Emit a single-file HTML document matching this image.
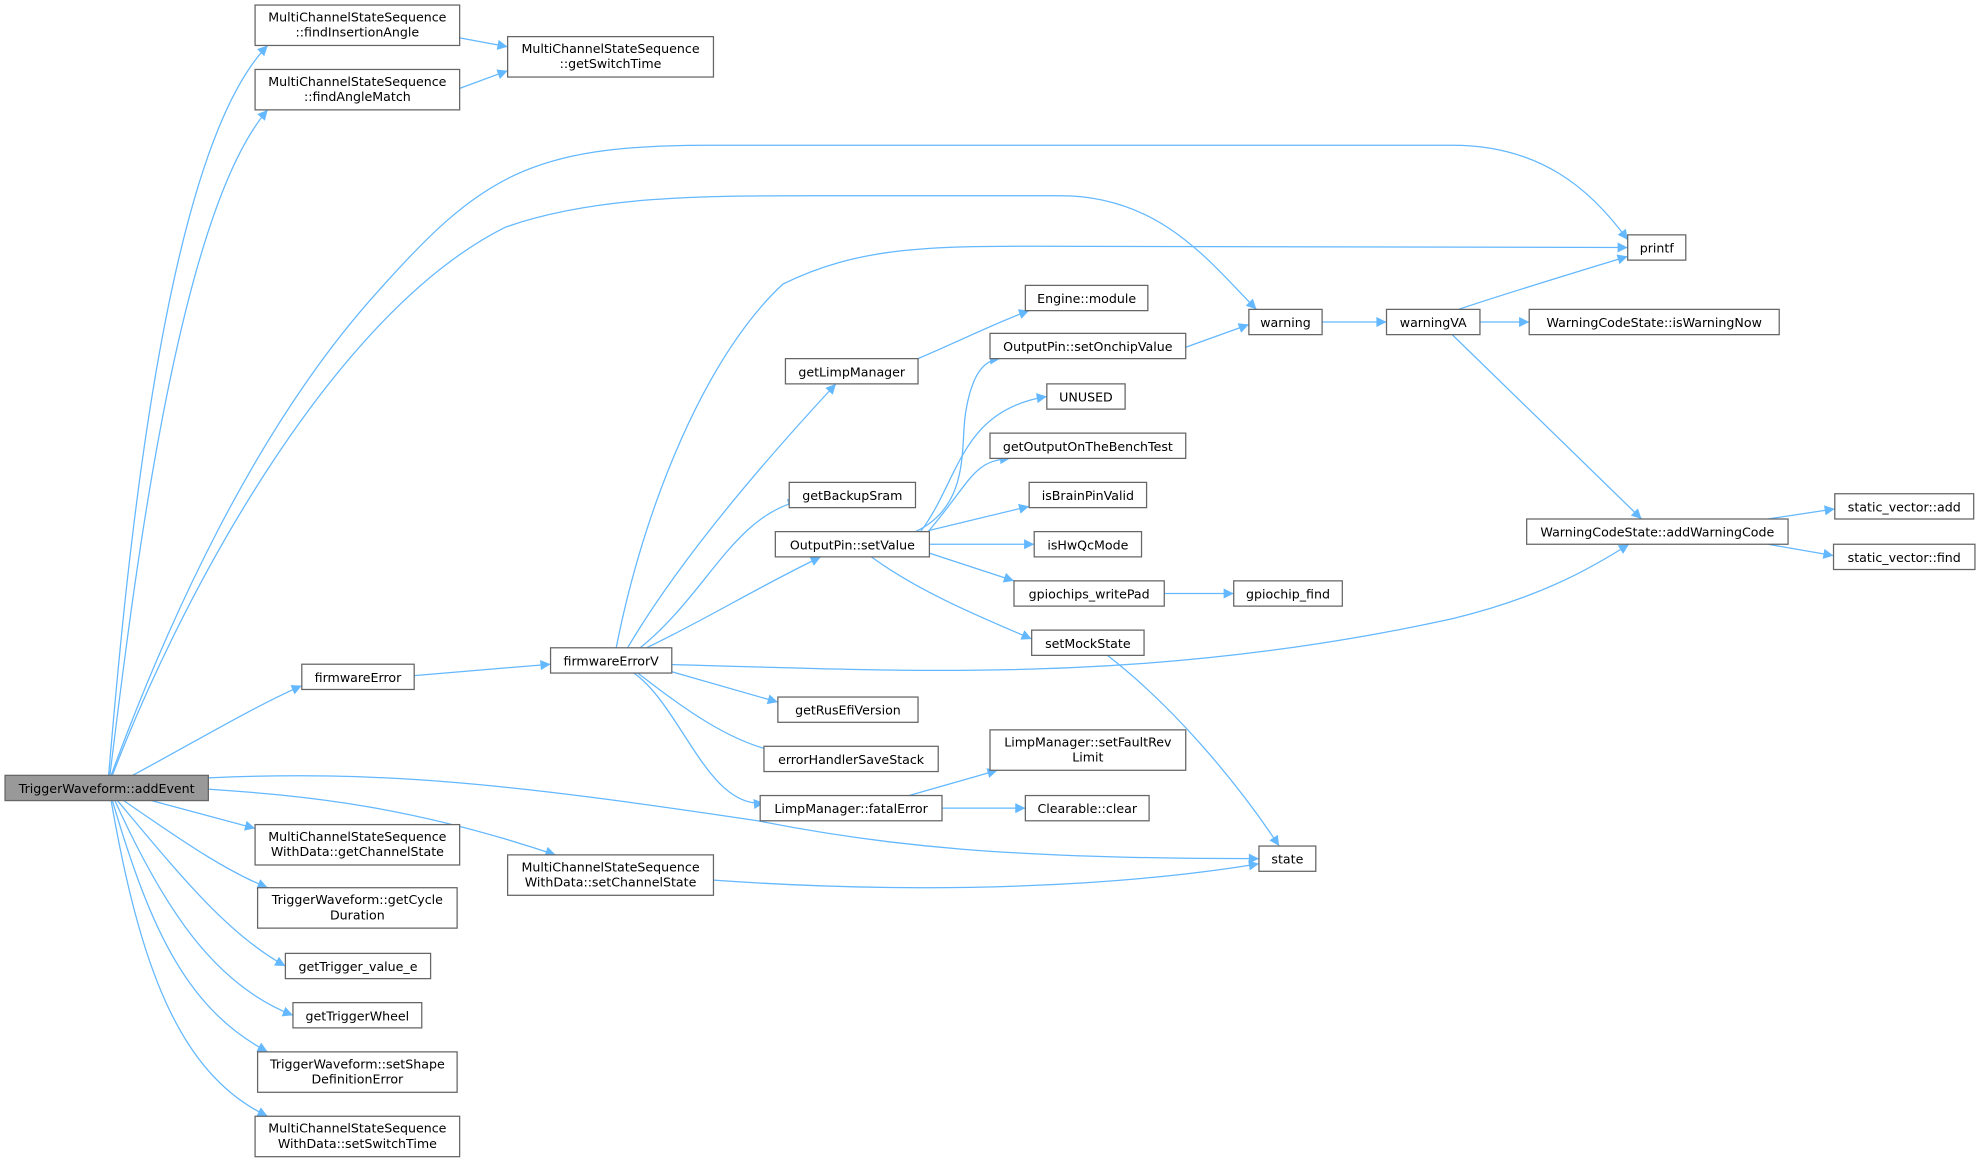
<!DOCTYPE html>
<html><head><meta charset="utf-8"><style>html,body{margin:0;padding:0;background:#fff}svg{display:block}</style></head><body>
<svg width="1980" height="1163" viewBox="0 0 1568 921" xmlns="http://www.w3.org/2000/svg" font-family="DejaVu Sans, Liberation Sans, sans-serif" font-size="10">
<defs><marker id="a" viewBox="0 0 10 10" refX="10" refY="5" markerWidth="10" markerHeight="8" markerUnits="userSpaceOnUse" orient="auto"><path d="M0,0L10,5L0,10z" fill="#63b8ff"/></marker></defs>
<g fill="none" stroke="#63b8ff" stroke-width="1" marker-end="url(#a)">
<path d="M86,614 C100,450 130,120 212,36"/>
<path d="M87,614 C105,470 140,170 212,87"/>
<path d="M364,30 L402,37"/>
<path d="M364,70 L402,56"/>
<path d="M88,614 C130,500 200,340 300,230 C380,140 420,115 560,115 L1150,115 C1220,115 1260,150 1289,190"/>
<path d="M89,614 C140,480 260,250 400,180 C470,155 560,155 640,155 L840,155 C920,155 960,210 995,245"/>
<path d="M105,614 C150,590 200,560 239,543"/>
<path d="M328,535 L436,526"/>
<path d="M488,513 C510,400 560,280 620,225 C680,195 740,195 820,195 L1289,196"/>
<path d="M497,513 C540,440 610,360 662,304"/>
<path d="M727,284 C760,270 790,255 815,246"/>
<path d="M507,513 C560,470 580,410 632,397"/>
<path d="M512,513 C560,490 600,465 650,441"/>
<path d="M520,526 C700,530 900,545 1150,490 C1220,473 1260,450 1290,431"/>
<path d="M532,532 L616,556"/>
<path d="M505,533 C540,560 580,590 620,596"/>
<path d="M502,533 C540,560 560,640 605,636"/>
<path d="M720,630 L790,610"/>
<path d="M746,640 L812,640"/>
<path d="M725,421 C770,400 760,350 765,325 C770,295 780,285 792,284"/>
<path d="M729,421 C760,380 760,325 829,314"/>
<path d="M735,421 C770,380 770,365 800,363"/>
<path d="M736,420 L815,401"/>
<path d="M736,431 L819,431"/>
<path d="M736,438 L803,460"/>
<path d="M690,441 C730,470 780,490 817,506"/>
<path d="M922,470 L977,470"/>
<path d="M877,519 C930,560 980,620 1013,670"/>
<path d="M939,275 L989,257"/>
<path d="M1047,255 L1098,255"/>
<path d="M1155,245 C1200,230 1250,215 1289,203"/>
<path d="M1172,255 L1211,255"/>
<path d="M1150,265 L1300,411"/>
<path d="M1400,411 L1453,403"/>
<path d="M1400,431 L1452,440"/>
<path d="M165,616 C300,610 400,620 600,650 C700,670 800,680 997,680"/>
<path d="M150,624 C250,630 330,640 440,677"/>
<path d="M565,697 C750,710 900,700 997,684"/>
<path d="M120,634 L202,656"/>
<path d="M98,634 C150,670 180,690 212,703"/>
<path d="M93,634 C140,690 180,740 226,765"/>
<path d="M91,634 C130,720 170,780 232,804"/>
<path d="M89,634 C120,740 150,800 212,833"/>
<path d="M88,634 C110,760 140,850 212,884"/>
</g>
<g stroke="#666" stroke-width="1" fill="#fff">
<rect x="4" y="614" width="161" height="20" fill="#999"/>
<rect x="202" y="4" width="162" height="32"/>
<rect x="202" y="55" width="162" height="32"/>
<rect x="402" y="29" width="163" height="32"/>
<rect x="1289" y="186" width="46" height="20"/>
<rect x="989" y="245" width="58" height="20"/>
<rect x="1098" y="245" width="74" height="20"/>
<rect x="1211" y="245" width="198" height="20"/>
<rect x="812" y="226" width="97" height="20"/>
<rect x="622" y="284" width="105" height="20"/>
<rect x="784" y="264" width="155" height="20"/>
<rect x="829" y="304" width="62" height="20"/>
<rect x="784" y="343" width="155" height="20"/>
<rect x="815" y="382" width="93" height="20"/>
<rect x="819" y="421" width="85" height="20"/>
<rect x="803" y="460" width="119" height="20"/>
<rect x="977" y="460" width="86" height="20"/>
<rect x="817" y="499" width="89" height="20"/>
<rect x="625" y="382" width="100" height="20"/>
<rect x="614" y="421" width="122" height="20"/>
<rect x="1209" y="411" width="207" height="20"/>
<rect x="1453" y="391" width="110" height="20"/>
<rect x="1452" y="431" width="112" height="20"/>
<rect x="239" y="526" width="89" height="20"/>
<rect x="436" y="513" width="96" height="20"/>
<rect x="616" y="552" width="111" height="20"/>
<rect x="605" y="591" width="138" height="20"/>
<rect x="602" y="630" width="144" height="20"/>
<rect x="784" y="578" width="155" height="32"/>
<rect x="812" y="630" width="98" height="20"/>
<rect x="997" y="670" width="45" height="20"/>
<rect x="402" y="677" width="163" height="32"/>
<rect x="202" y="653" width="162" height="32"/>
<rect x="204" y="703" width="158" height="32"/>
<rect x="226" y="755" width="115" height="20"/>
<rect x="232" y="794" width="102" height="20"/>
<rect x="204" y="833" width="158" height="32"/>
<rect x="202" y="884" width="162" height="32"/>
</g>
<g fill="#000" text-anchor="middle">
<text x="84.5" y="628">TriggerWaveform::addEvent</text>
<text x="283" y="17">MultiChannelStateSequence</text><text x="283" y="29">::findInsertionAngle</text>
<text x="283" y="68">MultiChannelStateSequence</text><text x="283" y="80">::findAngleMatch</text>
<text x="483.5" y="42">MultiChannelStateSequence</text><text x="483.5" y="54">::getSwitchTime</text>
<text x="1312" y="200">printf</text>
<text x="1018" y="259">warning</text>
<text x="1135" y="259">warningVA</text>
<text x="1310" y="259">WarningCodeState::isWarningNow</text>
<text x="860.5" y="240">Engine::module</text>
<text x="674.5" y="298">getLimpManager</text>
<text x="861.5" y="278">OutputPin::setOnchipValue</text>
<text x="860" y="318">UNUSED</text>
<text x="861.5" y="357">getOutputOnTheBenchTest</text>
<text x="861.5" y="396">isBrainPinValid</text>
<text x="861.5" y="435">isHwQcMode</text>
<text x="862.5" y="474">gpiochips_writePad</text>
<text x="1020" y="474">gpiochip_find</text>
<text x="861.5" y="513">setMockState</text>
<text x="675" y="396">getBackupSram</text>
<text x="675" y="435">OutputPin::setValue</text>
<text x="1312.5" y="425">WarningCodeState::addWarningCode</text>
<text x="1508" y="405">static_vector::add</text>
<text x="1508" y="445">static_vector::find</text>
<text x="283.5" y="540">firmwareError</text>
<text x="484" y="527">firmwareErrorV</text>
<text x="671.5" y="566">getRusEfiVersion</text>
<text x="674" y="605">errorHandlerSaveStack</text>
<text x="674" y="644">LimpManager::fatalError</text>
<text x="861.5" y="591">LimpManager::setFaultRev</text><text x="861.5" y="603">Limit</text>
<text x="861" y="644">Clearable::clear</text>
<text x="1019.5" y="684">state</text>
<text x="483.5" y="690">MultiChannelStateSequence</text><text x="483.5" y="702">WithData::setChannelState</text>
<text x="283" y="666">MultiChannelStateSequence</text><text x="283" y="678">WithData::getChannelState</text>
<text x="283" y="716">TriggerWaveform::getCycle</text><text x="283" y="728">Duration</text>
<text x="283.5" y="769">getTrigger_value_e</text>
<text x="283" y="808">getTriggerWheel</text>
<text x="283" y="846">TriggerWaveform::setShape</text><text x="283" y="858">DefinitionError</text>
<text x="283" y="897">MultiChannelStateSequence</text><text x="283" y="909">WithData::setSwitchTime</text>
</g>
</svg>
</body></html>
